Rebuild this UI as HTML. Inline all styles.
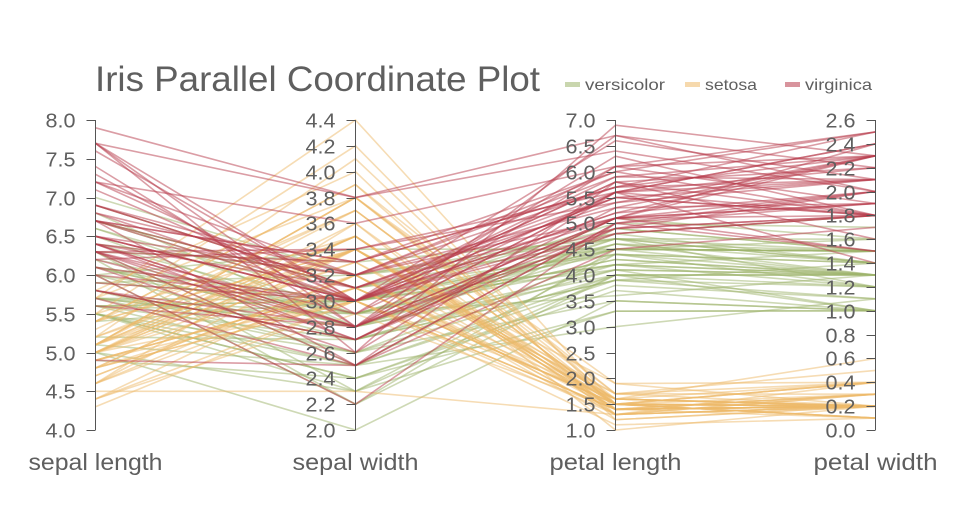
<!DOCTYPE html>
<html><head><style>
body{margin:0;background:#fff;}
svg text{font-family:"Liberation Sans",sans-serif;fill:#5f5f5f;}
</style></head><body>
<svg id="s" width="960" height="500" xmlns="http://www.w3.org/2000/svg">
<text x="95" y="91" font-size="35" textLength="445" lengthAdjust="spacingAndGlyphs">Iris Parallel Coordinate Plot</text>
<rect x="565" y="82" width="15" height="5" fill="#9db46b" opacity="0.55"/>
<text x="585" y="90" font-size="16" textLength="80" lengthAdjust="spacingAndGlyphs">versicolor</text>
<rect x="685" y="82" width="15" height="5" fill="#eeb969" opacity="0.55"/>
<text x="705" y="90" font-size="16" textLength="52" lengthAdjust="spacingAndGlyphs">setosa</text>
<rect x="785" y="82" width="15" height="5" fill="#b83c4c" opacity="0.55"/>
<text x="805" y="90" font-size="16" textLength="67" lengthAdjust="spacingAndGlyphs">virginica</text>
<g id="lines"></g>
<g id="axes"></g>
</svg>
<script>
var S=`5.1,3.5,1.4,0.2 4.9,3.0,1.4,0.2 4.7,3.2,1.3,0.2 4.6,3.1,1.5,0.2 5.0,3.6,1.4,0.2 5.4,3.9,1.7,0.4 4.6,3.4,1.4,0.3 5.0,3.4,1.5,0.2 4.4,2.9,1.4,0.2 4.9,3.1,1.5,0.1 5.4,3.7,1.5,0.2 4.8,3.4,1.6,0.2 4.8,3.0,1.4,0.1 4.3,3.0,1.1,0.1 5.8,4.0,1.2,0.2 5.7,4.4,1.5,0.4 5.4,3.9,1.3,0.4 5.1,3.5,1.4,0.3 5.7,3.8,1.7,0.3 5.1,3.8,1.5,0.3 5.4,3.4,1.7,0.2 5.1,3.7,1.5,0.4 4.6,3.6,1.0,0.2 5.1,3.3,1.7,0.5 4.8,3.4,1.9,0.2 5.0,3.0,1.6,0.2 5.0,3.4,1.6,0.4 5.2,3.5,1.5,0.2 5.2,3.4,1.4,0.2 4.7,3.2,1.6,0.2 4.8,3.1,1.6,0.2 5.4,3.4,1.5,0.4 5.2,4.1,1.5,0.1 5.5,4.2,1.4,0.2 4.9,3.1,1.5,0.1 5.0,3.2,1.2,0.2 5.5,3.5,1.3,0.2 4.9,3.1,1.5,0.1 4.4,3.0,1.3,0.2 5.1,3.4,1.5,0.2 5.0,3.5,1.3,0.3 4.5,2.3,1.3,0.3 4.4,3.2,1.3,0.2 5.0,3.5,1.6,0.6 5.1,3.8,1.9,0.4 4.8,3.0,1.4,0.3 5.1,3.8,1.6,0.2 4.6,3.2,1.4,0.2 5.3,3.7,1.5,0.2 5.0,3.3,1.4,0.2`;
var V=`7.0,3.2,4.7,1.4 6.4,3.2,4.5,1.5 6.9,3.1,4.9,1.5 5.5,2.3,4.0,1.3 6.5,2.8,4.6,1.5 5.7,2.8,4.5,1.3 6.3,3.3,4.7,1.6 4.9,2.4,3.3,1.0 6.6,2.9,4.6,1.3 5.2,2.7,3.9,1.4 5.0,2.0,3.5,1.0 5.9,3.0,4.2,1.5 6.0,2.2,4.0,1.0 6.1,2.9,4.7,1.4 5.6,2.9,3.6,1.3 6.7,3.1,4.4,1.4 5.6,3.0,4.5,1.5 5.8,2.7,4.1,1.0 6.2,2.2,4.5,1.5 5.6,2.5,3.9,1.1 5.9,3.2,4.8,1.8 6.1,2.8,4.0,1.3 6.3,2.5,4.9,1.5 6.1,2.8,4.7,1.2 6.4,2.9,4.3,1.3 6.6,3.0,4.4,1.4 6.8,2.8,4.8,1.4 6.7,3.0,5.0,1.7 6.0,2.9,4.5,1.5 5.7,2.6,3.5,1.0 5.5,2.4,3.8,1.1 5.5,2.4,3.7,1.0 5.8,2.7,3.9,1.2 6.0,2.7,5.1,1.6 5.4,3.0,4.5,1.5 6.0,3.4,4.5,1.6 6.7,3.1,4.7,1.5 6.3,2.3,4.4,1.3 5.6,3.0,4.1,1.3 5.5,2.5,4.0,1.3 5.5,2.6,4.4,1.2 6.1,3.0,4.6,1.4 5.8,2.6,4.0,1.2 5.0,2.3,3.3,1.0 5.6,2.7,4.2,1.3 5.7,3.0,4.2,1.2 5.7,2.9,4.2,1.3 6.2,2.9,4.3,1.3 5.1,2.5,3.0,1.1 5.7,2.8,4.1,1.3`;
var G=`6.3,3.3,6.0,2.5 5.8,2.7,5.1,1.9 7.1,3.0,5.9,2.1 6.3,2.9,5.6,1.8 6.5,3.0,5.8,2.2 7.6,3.0,6.6,2.1 4.9,2.5,4.5,1.7 7.3,2.9,6.3,1.8 6.7,2.5,5.8,1.8 7.2,3.6,6.1,2.5 6.5,3.2,5.1,2.0 6.4,2.7,5.3,1.9 6.8,3.0,5.5,2.1 5.7,2.5,5.0,2.0 5.8,2.8,5.1,2.4 6.4,3.2,5.3,2.3 6.5,3.0,5.5,1.8 7.7,3.8,6.7,2.2 7.7,2.6,6.9,2.3 6.0,2.2,5.0,1.5 6.9,3.2,5.7,2.3 5.6,2.8,4.9,2.0 7.7,2.8,6.7,2.0 6.3,2.7,4.9,1.8 6.7,3.3,5.7,2.1 7.2,3.2,6.0,1.8 6.2,2.8,4.8,1.8 6.1,3.0,4.9,1.8 6.4,2.8,5.6,2.1 7.2,3.0,5.8,1.6 7.4,2.8,6.1,1.9 7.9,3.8,6.4,2.0 6.4,2.8,5.6,2.2 6.3,2.8,5.1,1.5 6.1,2.6,5.6,1.4 7.7,3.0,6.1,2.3 6.3,3.4,5.6,2.4 6.4,3.1,5.5,1.8 6.0,3.0,4.8,1.8 6.9,3.1,5.4,2.1 6.7,3.1,5.6,2.4 6.9,3.1,5.1,2.3 5.8,2.7,5.1,1.9 6.8,3.2,5.9,2.3 6.7,3.3,5.7,2.5 6.7,3.0,5.2,2.3 6.3,2.5,5.0,1.9 6.5,3.0,5.2,2.0 6.2,3.4,5.4,2.3 5.9,3.0,5.1,1.8`;
var X=[95.5,355.5,615.5,875.5],T=120,B=430;
var R=[[4,8,0.5,"sepal length",134],[2,4.4,0.2,"sepal width",126],[1,7,0.5,"petal length",132],[0,2.6,0.2,"petal width",124]];
function y(i,v){return B-(v-R[i][0])/(R[i][1]-R[i][0])*(B-T);}
var ns="http://www.w3.org/2000/svg",L=document.getElementById("lines"),A=document.getElementById("axes");
function el(p,t,a,txt){var e=document.createElementNS(ns,t);for(var k in a)e.setAttribute(k,a[k]);if(txt)e.textContent=txt;p.appendChild(e);return e;}
[[V,"#9db46b"],[S,"#eeb969"],[G,"#b83c4c"]].forEach(function(d){
d[0].split(" ").forEach(function(r){var v=r.split(",").map(Number);
el(L,"polyline",{points:v.map(function(x,i){return X[i]+","+y(i,x).toFixed(1)}).join(" "),fill:"none",stroke:d[1],"stroke-width":1.6,"stroke-opacity":0.5});});});
R.forEach(function(r,i){
el(A,"line",{x1:X[i],x2:X[i],y1:T,y2:B,stroke:"#555","stroke-width":1});
var n=Math.round((r[1]-r[0])/r[2]);
for(var k=0;k<=n;k++){var v=r[0]+k*r[2],yy=Math.round(y(i,v))+0.5;
el(A,"line",{x1:X[i]-9,x2:X[i],y1:yy,y2:yy,stroke:"#555","stroke-width":1});
el(A,"text",{x:X[i]-20,y:yy+7,"font-size":20,"text-anchor":"end",textLength:30,lengthAdjust:"spacingAndGlyphs"},v.toFixed(1));}
el(A,"text",{x:X[i]-r[4]/2,y:470,"font-size":23,textLength:r[4],lengthAdjust:"spacingAndGlyphs"},r[3]);
});
</script>
</body></html>
